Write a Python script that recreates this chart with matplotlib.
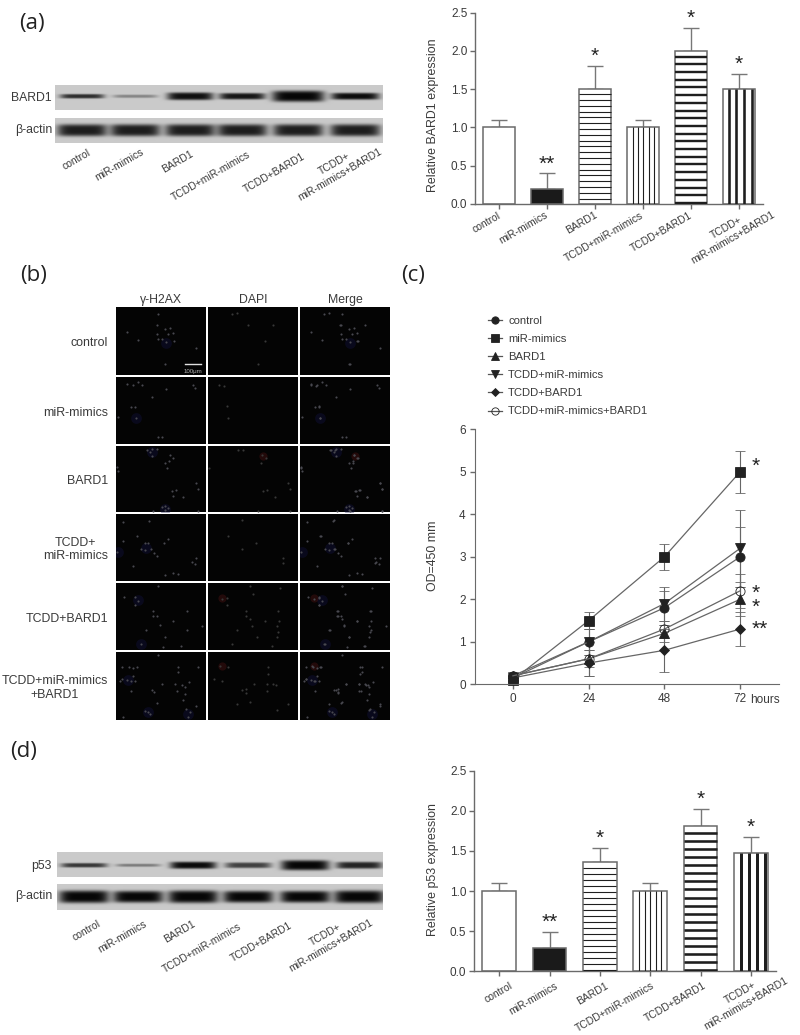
import numpy as np
import matplotlib
matplotlib.use("Agg")
import matplotlib.pyplot as plt
from matplotlib.lines import Line2D

plt.rcParams['font.family'] = ['Liberation Sans', 'DejaVu Sans']

W, H = 800, 1035
TEXT = '#3a3a3a'
AXC = '#6a6a6a'

groups = ['control', 'miR-mimics', 'BARD1', 'TCDD+miR-mimics', 'TCDD+BARD1', 'TCDD+\nmiR-mimics+BARD1']
stars = ['', '**', '*', '', '*', '*']

bard1_vals = [1.0, 0.2, 1.5, 1.0, 2.0, 1.5]
bard1_err = [0.1, 0.2, 0.3, 0.1, 0.3, 0.2]
p53_vals = [1.0, 0.29, 1.36, 1.0, 1.81, 1.47]
p53_err = [0.1, 0.2, 0.18, 0.1, 0.21, 0.2]

hours = [0, 24, 48, 72]
od_control = [0.2, 1.0, 1.8, 3.0]
od_control_err = [0.1, 0.3, 0.4, 0.7]
od_mimics = [0.1, 1.5, 3.0, 5.0]
od_mimics_err = [0.1, 0.2, 0.3, 0.5]
od_bard1 = [0.2, 0.6, 1.2, 2.0]
od_bard1_err = [0.1, 0.2, 0.2, 0.4]
od_tcdd_mimics = [0.15, 1.0, 1.9, 3.2]
od_tcdd_mimics_err = [0.1, 0.3, 0.4, 0.9]
od_tcdd_bard1 = [0.15, 0.5, 0.8, 1.3]
od_tcdd_bard1_err = [0.1, 0.3, 0.5, 0.4]
od_all = [0.2, 0.6, 1.3, 2.2]
od_all_err = [0.1, 0.4, 0.2, 0.4]

# blots: lane centre (px), band half width, band thickness, darkness
bard1_lanes = [82, 135, 190, 242, 298, 355]
bard1_width = [22, 22, 23, 23, 26, 24]
bard1_thick = [2.2, 1.6, 3.8, 3.2, 5.5, 3.4]
bard1_dark = [0.8, 0.35, 0.95, 0.92, 1.0, 0.97]
actin_a_width = [25, 25, 25, 25, 25, 25]
actin_a_thick = [6, 6, 6, 6, 6, 6]
actin_a_dark = [0.88, 0.88, 0.88, 0.88, 0.88, 0.88]

p53_lanes = [84, 138, 193, 248, 305, 359]
p53_width = [23, 22, 23, 23, 24, 23]
p53_thick = [2.2, 1.5, 3.5, 2.8, 5.0, 3.4]
p53_dark = [0.75, 0.4, 0.98, 0.7, 1.0, 0.85]
actin_d_width = [25, 25, 25, 25, 25, 25]
actin_d_thick = [6, 5.6, 6, 5.6, 5.6, 6]
actin_d_dark = [1.0, 1.0, 1.0, 1.0, 1.0, 1.0]

# micrograph spots in pixels from its top left corner
h2ax_spots = [
    [(42, 7), (11, 25), (22, 33), (41, 18), (54, 21), (57, 26), (49, 22), (41, 27), (52, 27), (42, 32), (46, 32), (50, 35), (58, 34), (49, 57), (80, 41)],
    [(11, 7), (17, 8), (22, 5), (26, 8), (50, 12), (77, 8), (79, 11), (36, 20), (15, 30), (19, 30), (2, 40), (20, 41), (42, 60), (46, 60)],
    [(31, 4), (36, 3), (41, 3), (36, 10), (34, 6), (54, 9), (57, 12), (49, 17), (53, 15), (51, 22), (1, 21), (2, 25), (80, 37), (82, 43), (56, 45), (60, 44), (57, 50), (67, 51), (46, 61), (49, 60), (52, 62), (49, 64), (37, 65), (82, 65)],
    [(7, 8), (33, 7), (21, 22), (7, 27), (1, 38), (29, 29), (32, 29), (25, 35), (29, 36), (35, 35), (38, 39), (41, 42), (48, 29), (52, 25), (76, 48), (80, 44), (79, 50), (17, 52), (49, 61), (57, 59), (62, 60)],
    [(42, 3), (8, 14), (19, 14), (22, 18), (19, 22), (37, 28), (37, 33), (41, 33), (44, 42), (57, 38), (71, 28), (30, 47), (49, 54), (86, 43), (25, 61), (47, 64), (65, 63), (71, 47)],
    [(42, 3), (6, 15), (13, 15), (17, 16), (21, 15), (6, 27), (11, 28), (15, 29), (19, 29), (4, 29), (17, 24), (15, 39), (62, 15), (62, 20), (82, 15), (46, 32), (36, 38), (38, 40), (59, 32), (66, 33), (73, 30), (69, 35), (61, 39), (69, 42), (67, 48), (41, 51), (29, 59), (32, 60), (34, 62), (70, 57), (74, 60), (80, 54), (72, 65), (7, 65)],
]
dapi_spots = [
    [(40, 18), (24, 7), (65, 18), (57, 34), (50, 57), (29, 6)],
    [(11, 8), (16, 9), (20, 41), (19, 29)],
    [(30, 4), (35, 4), (54, 9), (58, 12), (53, 17), (1, 22), (80, 37), (82, 43), (55, 45), (59, 44), (67, 51), (50, 65), (82, 65)],
    [(34, 6), (20, 22), (34, 35), (48, 29), (75, 44), (75, 49)],
    [(42, 3), (45, 11), (72, 5), (19, 22), (19, 15), (14, 16), (38, 28), (38, 33), (42, 36), (44, 43), (70, 28), (71, 38), (69, 43), (70, 49), (69, 54), (29, 47), (49, 54), (57, 38), (24, 61), (64, 63)],
    [(12, 14), (20, 15), (6, 27), (14, 29), (60, 15), (60, 22), (46, 32), (34, 38), (38, 37), (38, 41), (59, 32), (65, 32), (59, 39), (68, 33), (69, 58), (42, 50), (80, 52), (29, 52)],
]
blue_glow = [
    [(50, 36)],
    [(20, 41)],
    [(36, 6), (49, 63)],
    [(2, 38), (30, 34)],
    [(22, 17), (25, 61)],
    [(12, 28), (32, 60), (72, 62)],
]
red_glow = [[], [], [(55, 10)], [], [(14, 15)], [(14, 14)]]
row_names = ['control', 'miR-mimics', 'BARD1', 'TCDD+\nmiR-mimics', 'TCDD+BARD1', 'TCDD+miR-mimics\n+BARD1']
col_names = ['γ-H2AX', 'DAPI', 'Merge']
col_x = [(116, 206), (208, 298), (300, 390)]
row_y = [(307, 375), (377, 444), (446, 512), (514, 581), (583, 650), (652, 720)]


def px_axes(fig, x0, y0, x1, y1):
    return fig.add_axes([x0 / W, 1 - y1 / H, (x1 - x0) / W, (y1 - y0) / H])


def fig_text(fig, x, y, s, **kw):
    kw.setdefault('color', TEXT)
    return fig.text(x / W, 1 - y / H, s, **kw)


def draw_blot(fig, box, lanes, widths, thick, dark, y_mid):
    x0, y0, x1, y1 = box
    ax = px_axes(fig, x0, y0, x1, y1)
    xx, yy = np.meshgrid(np.arange(x0, x1, 0.5), np.arange(y0, y1, 0.5))
    img = np.full(xx.shape, 0.79)
    for c, w, t, d in zip(lanes, widths, thick, dark):
        band = np.exp(-((xx - c) / w) ** 6 - ((yy - y_mid) / t) ** 4)
        img = img * (1 - 0.97 * d * band)
    ax.imshow(img, cmap='gray', vmin=0, vmax=1, aspect='auto', interpolation='bilinear')
    ax.axis('off')


def blot_labels(fig, ends):
    for name, (x, y) in zip(groups, ends):
        fig_text(fig, x, y, name, fontsize=7.5, rotation=30, ha='right', va='top',
                 ma='center', rotation_mode='anchor')


def bar_panel(fig, box, vals, errs, ylabel, ylabel_y, stripes, label_dx, label_dy):
    ax = px_axes(fig, *box)
    px_per_unit = (box[3] - box[1]) / 2.5
    unit_px = (box[2] - box[0]) / 6
    pos = np.arange(len(vals))
    ax.errorbar(pos, vals, yerr=[np.zeros(len(errs)), errs], fmt='none', ecolor='#777777',
                elinewidth=1, capsize=6, capthick=1, zorder=1)
    fills = ['white', '#1a1a1a', 'white', 'white', 'white', 'white']
    bars = ax.bar(pos, vals, width=0.67, color=fills, edgecolor=AXC, linewidth=1.1, zorder=2)
    for i, bar in enumerate(bars):
        spec = stripes[i]
        if spec is None:
            continue
        kind, gap, weight, first = spec
        lw = weight * 0.72
        if kind == 'h':
            ys = np.arange(vals[i] - first / px_per_unit, 0, -gap / px_per_unit)
            ax.hlines(ys, i - 0.33, i + 0.33, color='#1e1e1e', linewidth=lw, zorder=3)
        else:
            left = i - bar.get_width() / 2
            xs = np.arange(left + first / unit_px, i + bar.get_width() / 2 - 0.02, gap / unit_px)
            ax.vlines(xs, 0, vals[i], color='#1e1e1e', linewidth=lw, zorder=3)
    for i, s in enumerate(stars):
        if s:
            ax.annotate(s, xy=(i, vals[i] + errs[i]), xytext=(0, 0), textcoords='offset points',
                        ha='center', va='bottom', fontsize=15, color='#222222')
    ax.set_xlim(-0.5, 5.5)
    ax.set_ylim(0, 2.5)
    ax.set_yticks([0, 0.5, 1.0, 1.5, 2.0, 2.5])
    ax.set_yticklabels(['0.0', '0.5', '1.0', '1.5', '2.0', '2.5'], fontsize=8.5, color=TEXT)
    ax.set_xticks(pos)
    ax.set_xticklabels([])
    ax.tick_params(length=3.5, width=1, color=AXC, pad=2)
    for side in ['top', 'right']:
        ax.spines[side].set_visible(False)
    for side in ['left', 'bottom']:
        ax.spines[side].set_color(AXC)
        ax.spines[side].set_linewidth(1)
    ax.patch.set_alpha(0)
    for i, name in enumerate(groups):
        ax.annotate(name, xy=(i, 0), xytext=(label_dx[i], label_dy[i]), textcoords='offset points',
                    ha='right', va='top', ma='center', fontsize=7.5, rotation=30,
                    rotation_mode='anchor', color=TEXT)
    fig_text(fig, 433, ylabel_y, ylabel, fontsize=8.9, rotation=90, ha='center', va='center')


fig = plt.figure(figsize=(W / 100, H / 100), dpi=100)

for s, x, y in [('(a)', 19, 23), ('(b)', 20, 276), ('(c)', 401, 276), ('(d)', 10, 752)]:
    fig_text(fig, x, y, s, fontsize=16, family='Open Sans', va='center', color='#222222')

# (a) blot and bars
draw_blot(fig, (55, 85, 383, 110), bard1_lanes, bard1_width, bard1_thick, bard1_dark, 96)
draw_blot(fig, (55, 118, 383, 143), bard1_lanes, actin_a_width, actin_a_thick, actin_a_dark, 130)
fig_text(fig, 52, 98, 'BARD1', fontsize=8.8, ha='right', va='center')
fig_text(fig, 52, 130, 'β-actin', fontsize=8.8, ha='right', va='center')
blot_labels(fig, [(87, 148), (140, 147), (190, 149), (247, 149), (302, 151), (373, 136)])

bar_panel(fig, (475, 12.7, 763, 204), bard1_vals, bard1_err, 'Relative BARD1 expression', 115,
          [None, None, ('h', 5.8, 1.1, 5), ('v', 5.4, 1.1, 5.7), ('h', 7.7, 2.4, 5.7), ('v', 7.7, 2.6, 5.7)],
          [-1.5, -2.1, -0.7, -2.1, -1.5, 19], [-4.5, -4.5, -4.5, -4.5, -4.5, 3])

# (b) micrographs
for r, (y0, y1) in enumerate(row_y):
    for c, (x0, x1) in enumerate(col_x):
        ax = px_axes(fig, x0, y0, x1, y1)
        ax.set_facecolor('#040404')
        ax.set_xlim(0, x1 - x0)
        ax.set_ylim(y1 - y0, 0)
        ax.set_xticks([])
        ax.set_yticks([])
        for spine in ax.spines.values():
            spine.set_visible(False)
        spots = [h2ax_spots[r], dapi_spots[r], h2ax_spots[r] + dapi_spots[r]][c]
        if c != 1 and blue_glow[r]:
            gx, gy = zip(*blue_glow[r])
            ax.scatter(gx, gy, s=60, color='#14144a', alpha=0.35, linewidths=0)
        if c != 0 and red_glow[r]:
            gx, gy = zip(*red_glow[r])
            ax.scatter(gx, gy, s=35, color='#4a1212', alpha=0.45, linewidths=0)
        sx, sy = zip(*spots)
        ax.scatter(sx, sy, s=2.4, color='#48484f' if c != 1 else '#383838', linewidths=0)
        if r == 0 and c == 0:
            ax.plot([69, 85], [57, 57], color='#e0e0e0', linewidth=1)
            ax.text(77, 64, '100μm', color='#b0b0b0', fontsize=4.4, ha='center', va='center')

for name, (x0, x1) in zip(col_names, col_x):
    fig_text(fig, (x0 + x1) / 2, 300, name, fontsize=8.8, ha='center', va='center')
for name, (y0, y1) in zip(row_names, row_y):
    fig_text(fig, 108, (y0 + y1) / 2 + 2, name, fontsize=8.9, ha='right', va='center', ma='center')

# (c) growth curves
ax = px_axes(fig, 474.7, 429.3, 779, 684.3)
series = [
    ('control', od_control, od_control_err, 'o', 6.6, '#222222'),
    ('miR-mimics', od_mimics, od_mimics_err, 's', 6.8, '#222222'),
    ('BARD1', od_bard1, od_bard1_err, '^', 6.6, '#222222'),
    ('TCDD+miR-mimics', od_tcdd_mimics, od_tcdd_mimics_err, 'v', 6.6, '#222222'),
    ('TCDD+BARD1', od_tcdd_bard1, od_tcdd_bard1_err, 'D', 5.0, '#222222'),
    ('TCDD+miR-mimics+BARD1', od_all, od_all_err, 'o', 6.6, 'none'),
]
handles = []
for label, vals, errs, marker, ms, face in series:
    ax.errorbar(hours, vals, yerr=errs, color='#666666', linewidth=0.9, elinewidth=0.8, capsize=3.6,
                capthick=0.8, marker=marker, markersize=ms, markerfacecolor=face,
                markeredgecolor='#222222', markeredgewidth=0.6, clip_on=False)
    handles.append(Line2D([], [], color='#555555', linewidth=0.9, marker=marker, markersize=ms * 0.8,
                          markerfacecolor=face, markeredgecolor='#222222', markeredgewidth=0.6, label=label))
for s, val, dy in [('*', 5.0, 4), ('*', 2.2, -2), ('*', 2.0, -6), ('**', 1.3, 0)]:
    ax.annotate(s, xy=(72, val), xytext=(8, dy), textcoords='offset points', ha='left', va='center',
                fontsize=15, color='#222222')
ax.set_xlim(-12.1, 84.3)
ax.set_ylim(0, 6)
ax.set_xticks(hours)
ax.set_xticklabels([str(h) for h in hours], fontsize=8.5, color=TEXT)
ax.set_yticks(range(7))
ax.set_yticklabels([str(v) for v in range(7)], fontsize=8.5, color=TEXT)
ax.tick_params(length=3.5, width=1, color=AXC, pad=3)
for side in ['top', 'right']:
    ax.spines[side].set_visible(False)
for side in ['left', 'bottom']:
    ax.spines[side].set_color(AXC)
ax.patch.set_alpha(0)
fig_text(fig, 765, 700, 'hours', fontsize=8.5, ha='center', va='center')
fig_text(fig, 433, 556, 'OD=450 mm', fontsize=8.9, rotation=90, ha='center', va='center')
ax.legend(handles=handles, loc='upper left', bbox_to_anchor=(488 / W, 1 - 316 / H), bbox_transform=fig.transFigure,
          frameon=False, fontsize=8.1, labelspacing=0.72, handlelength=1.25, handletextpad=0.55,
          borderpad=0, borderaxespad=0, labelcolor=TEXT)

# (d) blot and bars
draw_blot(fig, (57, 852, 383, 877), p53_lanes, p53_width, p53_thick, p53_dark, 865)
draw_blot(fig, (57, 884, 383, 910), p53_lanes, actin_d_width, actin_d_thick, actin_d_dark, 897)
fig_text(fig, 52, 866, 'p53', fontsize=8.8, ha='right', va='center')
fig_text(fig, 52, 896, 'β-actin', fontsize=8.8, ha='right', va='center')
blot_labels(fig, [(97, 919), (143, 919), (192, 919), (238, 921), (289, 920), (364, 907)])

bar_panel(fig, (474, 770.7, 776, 971.3), p53_vals, p53_err, 'Relative p53 expression', 869.5,
          [None, None, ('h', 6.0, 1.1, 6), ('v', 5.6, 1.1, 5.7), ('h', 8.1, 2.6, 6.7), ('v', 8.0, 3.0, 6.7)],
          [7, 3.5, 3.5, 0.5, 2, 20], [-6.5, -6.5, -6.5, -6.5, -6.5, 4.5])

fig.savefig('out.png', dpi=100, facecolor='white')
